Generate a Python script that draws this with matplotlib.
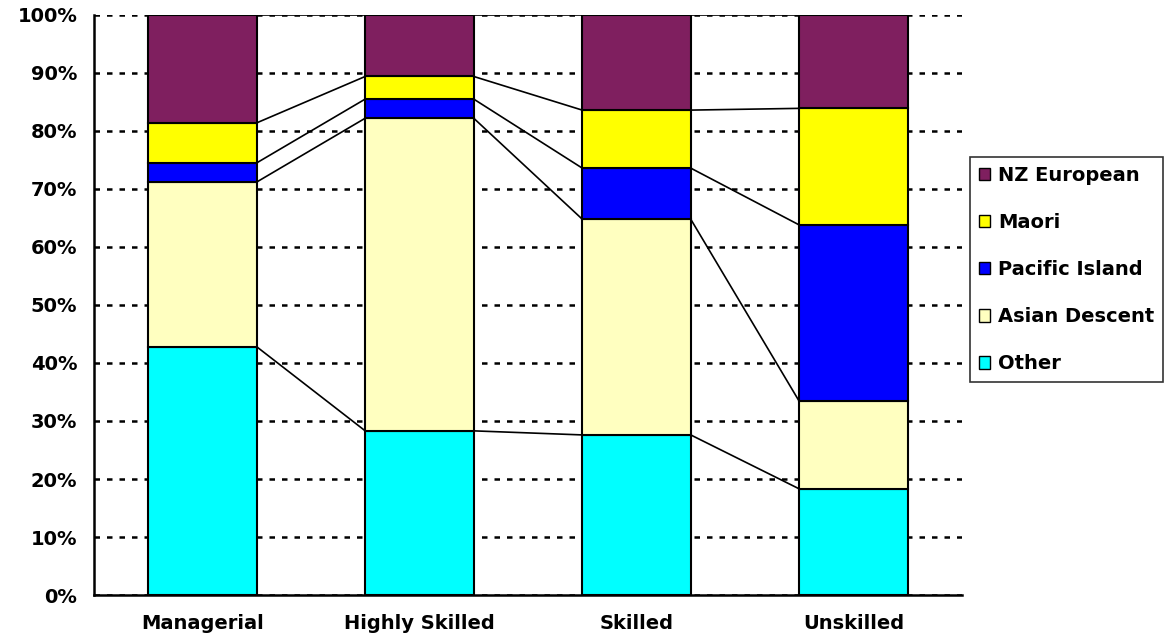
import matplotlib.pyplot as plt
import numpy as np
from matplotlib.patches import Patch

categories = ["Managerial", "Highly Skilled", "Skilled", "Unskilled"]
series = ["Other", "Asian Descent", "Pacific Island", "Maori", "NZ European"]
other = [42.8, 28.3, 27.6, 18.3]
asian = [28.4, 53.9, 37.2, 15.1]
pacific = [3.3, 3.3, 8.8, 30.4]
maori = [6.9, 3.9, 10.0, 20.1]
nz_european = [18.6, 10.6, 16.4, 16.1]
colors = ["#00FFFF", "#FFFFC0", "#0000FF", "#FFFF00", "#7F1F5F"]

plt.rcParams["font.family"] = "DejaVu Sans"
plt.rcParams["font.weight"] = "bold"

fig = plt.figure(figsize=(11.73, 6.4), dpi=100)
ax = fig.add_axes([0.0801, 0.0703, 0.7400, 0.9063])

data = np.array([other, asian, pacific, maori, nz_european])
x = np.arange(len(categories))
width = 0.5
bottom = np.zeros(len(categories))
handles = []
for name, vals, c in zip(series, data, colors):
    ax.bar(x, vals, width, bottom=bottom, color=c, edgecolor="black",
           linewidth=1.5, zorder=3)
    bottom = bottom + vals
    # series lines joining segment tops between neighbouring bars
    for i in range(len(categories) - 1):
        ax.plot([x[i] + width / 2, x[i + 1] - width / 2],
                [bottom[i], bottom[i + 1]], color="black", lw=1.2, zorder=2)
    handles.append(Patch(facecolor=c, edgecolor="black", label=name))

ax.set_xlim(-0.5, 3.5)
ax.set_ylim(0, 100)
ax.set_yticks(np.arange(0, 101, 10))
ax.set_yticklabels([f"{v}%" for v in range(0, 101, 10)], fontsize=14,
                   fontweight="bold")
ax.set_xticks(x)
ax.set_xticklabels(categories, fontsize=14, fontweight="bold")
ax.tick_params(axis="x", length=0, pad=14)
ax.tick_params(axis="y", length=0, pad=12)
ax.yaxis.grid(True, color="black", linestyle=(0, (2.2, 2.8)), linewidth=1.8,
              zorder=1)
ax.set_axisbelow(True)
for s in ["top", "right"]:
    ax.spines[s].set_visible(False)
for s in ["left", "bottom"]:
    ax.spines[s].set_linewidth(1.8)

leg = ax.legend(handles=handles[::-1], loc="center left",
                bbox_to_anchor=(1.009, 0.561), borderaxespad=0,
                frameon=True, fancybox=False, edgecolor="black",
                handlelength=0.6, handleheight=0.6, labelspacing=1.45,
                borderpad=0.45, handletextpad=0.4,
                prop={"weight": "bold", "size": 14})
leg.get_frame().set_linewidth(1.2)

fig.savefig("out.png", dpi=100)
